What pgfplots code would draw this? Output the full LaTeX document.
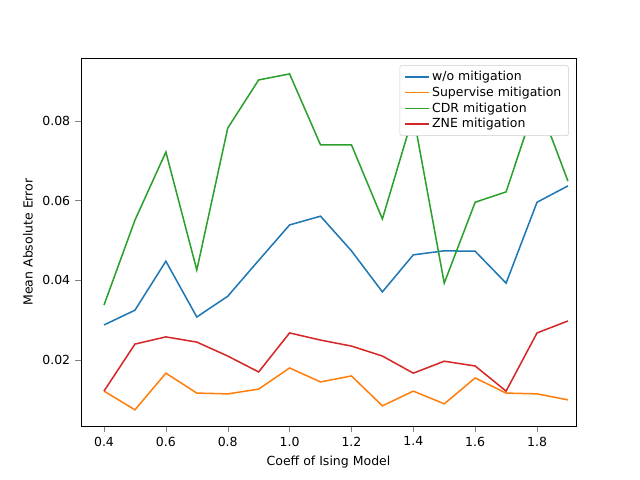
\documentclass[border=0pt]{standalone}
\usepackage{pgfplots}
\pgfplotsset{compat=1.18}
\usepackage{fontspec}
\setmainfont{DejaVu Sans}
\definecolor{cBlue}{HTML}{1F77B4}
\definecolor{cOrange}{HTML}{FF7F0E}
\definecolor{cGreen}{HTML}{2CA02C}
\definecolor{cRed}{HTML}{D62728}
\begin{document}
\begin{tikzpicture}
\useasboundingbox (0,0) rectangle (460.8pt,345.6pt);
\begin{axis}[at={(58.32pt,38.88pt)}, anchor=south west, scale only axis,
 width=356.4pt, height=264.96pt,
 xmin=0.3256, xmax=1.926, ymin=0.00344, ymax=0.0958,
 xtick={0.4,0.6,...,1.8}, ytick={0.02,0.04,0.06,0.08},
 /pgf/number format/assume math mode=true,
 xticklabel style={/pgf/number format/fixed,/pgf/number format/precision=1,/pgf/number format/fixed zerofill},
 yticklabel style={/pgf/number format/fixed,/pgf/number format/precision=2,/pgf/number format/fixed zerofill},
 scaled y ticks=false,
 tick align=outside, tick pos=lower,
 font=\fontsize{9pt}{10.8pt}\selectfont,
 xlabel={Coeff of Ising Model}, ylabel={Mean Absolute Error},
 legend cell align=left,
 legend style={at={(0.985,0.98)}, anchor=north east, draw=black!20, rounded corners=1pt, font=\fontsize{9pt}{10.8pt}\selectfont, row sep=-1pt},
 every axis plot/.append style={line width=1.1pt},
]
\addplot[color=cBlue] coordinates {(0.4,0.0288)(0.5,0.0325)(0.6,0.0448)(0.7,0.0308)(0.8,0.036)(0.9,0.0450)(1.0,0.0539)(1.1,0.0561)(1.2,0.0474)(1.3,0.0371)(1.4,0.0464)(1.5,0.0474)(1.6,0.0473)(1.7,0.0393)(1.8,0.0596)(1.9,0.0637)};
\addlegendentry{w/o mitigation}
\addplot[color=cOrange] coordinates {(0.4,0.0122)(0.5,0.0075)(0.6,0.0167)(0.7,0.0117)(0.8,0.0115)(0.9,0.0127)(1.0,0.018)(1.1,0.0145)(1.2,0.016)(1.3,0.0085)(1.4,0.0122)(1.5,0.009)(1.6,0.0155)(1.7,0.0117)(1.8,0.0115)(1.9,0.01)};
\addlegendentry{Supervise mitigation}
\addplot[color=cGreen] coordinates {(0.4,0.0338)(0.5,0.0551)(0.6,0.0722)(0.7,0.0426)(0.8,0.0782)(0.9,0.0903)(1.0,0.0918)(1.1,0.074)(1.2,0.074)(1.3,0.0554)(1.4,0.0815)(1.5,0.0393)(1.6,0.0596)(1.7,0.0622)(1.8,0.0855)(1.9,0.0649)};
\addlegendentry{CDR mitigation}
\addplot[color=cRed] coordinates {(0.4,0.0122)(0.5,0.024)(0.6,0.0258)(0.7,0.0245)(0.8,0.021)(0.9,0.017)(1.0,0.0268)(1.1,0.025)(1.2,0.0235)(1.3,0.021)(1.4,0.0167)(1.5,0.0197)(1.6,0.0185)(1.7,0.0122)(1.8,0.0268)(1.9,0.0298)};
\addlegendentry{ZNE mitigation}
\end{axis}
\end{tikzpicture}
\end{document}
